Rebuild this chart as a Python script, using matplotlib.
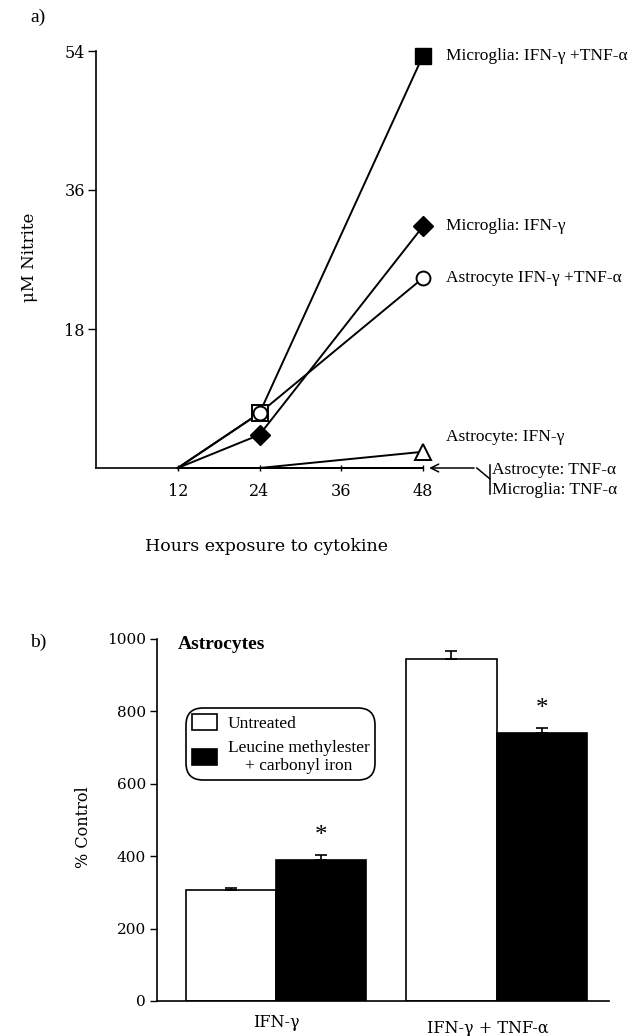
import matplotlib
matplotlib.use('Agg')
import matplotlib.pyplot as plt
from matplotlib.patches import Patch

# a) 시간별 nitrite 농도
hours = [12, 24, 48]
mg_ifn_tnf = [0, 7.1, 53.4]
mg_ifn = [0, 4.3, 31.3]
as_ifn_tnf = [0, 7.1, 24.6]
as_ifn = [0, 0, 2.1]
as_tnf = [0, 0, 0]
mg_tnf = [0, 0, 0]

x_ticks = [12, 24, 36, 48]
y_ticks = [18, 36, 54]

# b) Astrocytes % control
groups = ['IFN-γ', 'IFN-γ + TNF-α']
untreated = [308, 945]
untreated_err = [4, 21]
treated = [389, 739]
treated_err = [15, 16]

W, H = 628, 1036
TICK_FONT = 'DejaVu Serif'
LABEL_FONT = 'Liberation Serif'

fig = plt.figure(figsize=(W / 100, H / 100), dpi=100)


def fx(px):
    return px / W


def fy(py):
    return 1 - py / H


# ---------- panel a ----------
ax1 = fig.add_axes([fx(96), fy(468), fx(423) - fx(96), fy(51) - fy(468)])
ax1.set_xlim(0, 48)
ax1.set_ylim(0, 54)
for s in ['top', 'right']:
    ax1.spines[s].set_visible(False)
for s in ['left', 'bottom']:
    ax1.spines[s].set_linewidth(1.2)

lw = 1.4
ax1.plot(hours, as_tnf, color='black', lw=lw, clip_on=False)
ax1.plot(hours, mg_tnf, color='black', lw=lw, clip_on=False)
ax1.plot(hours, as_ifn, color='black', lw=lw, clip_on=False)
ax1.plot(hours, mg_ifn_tnf, color='black', lw=lw, clip_on=False)
ax1.plot(hours, as_ifn_tnf, color='black', lw=lw, clip_on=False)
ax1.plot(hours, mg_ifn, color='black', lw=lw, clip_on=False)

# markers
ax1.plot(hours[1], mg_ifn_tnf[1], 's', ms=11, mfc='white', mec='black', mew=1.4, clip_on=False, zorder=3)
ax1.plot(hours[2], mg_ifn_tnf[2], 's', ms=11, mfc='black', mec='black', clip_on=False, zorder=3)
ax1.plot(hours[1:], as_ifn_tnf[1:], 'o', ms=10, mfc='white', mec='black', mew=1.4, clip_on=False, zorder=4)
ax1.plot(hours[1:], mg_ifn[1:], 'D', ms=10, mfc='black', mec='black', clip_on=False, zorder=4)
ax1.plot(hours[2], as_ifn[2], '^', ms=12, mfc='white', mec='black', mew=1.4, clip_on=False, zorder=4)

ax1.set_xticks(x_ticks)
ax1.set_yticks(y_ticks)
ax1.tick_params(axis='x', direction='inout', length=5, width=1, pad=8)
ax1.tick_params(axis='y', direction='out', length=6, width=1, pad=2)
for lab in ax1.get_xticklabels() + ax1.get_yticklabels():
    lab.set_fontfamily(TICK_FONT)
    lab.set_fontsize(11.5)

ax1.set_ylabel('μM Nitrite', fontfamily=TICK_FONT, fontsize=12)
ax1.set_xlabel('Hours exposure to cytokine', fontfamily=TICK_FONT, fontsize=12.5)
ax1.yaxis.set_label_coords(-0.178, 0.505)
ax1.xaxis.set_label_coords(0.52, -0.168)

ann_kw = dict(fontfamily=LABEL_FONT, fontsize=12.5, va='center', ha='left')
ax1.text(51.4, mg_ifn_tnf[2], 'Microglia: IFN-γ +TNF-α', **ann_kw)
ax1.text(51.4, mg_ifn[2], 'Microglia: IFN-γ', **ann_kw)
ax1.text(51.4, as_ifn_tnf[2], 'Astrocyte IFN-γ +TNF-α', **ann_kw)
ax1.text(51.4, 4.0, 'Astrocyte: IFN-γ', **ann_kw)

# TNF-α 괄호 + 화살표
ax1.annotate('', xy=(48.5, 0), xytext=(55.9, 0),
             arrowprops=dict(arrowstyle='->', color='black', lw=1.1, mutation_scale=14),
             annotation_clip=False)
ax1.plot([55.9, 57.8], [0, -1.4], color='black', lw=1.1, clip_on=False)
ax1.plot([57.8, 57.8], [0.4, -3.4], color='black', lw=1.1, clip_on=False)
ax1.text(58.1, -0.3, 'Astrocyte: TNF-α', **ann_kw)
ax1.text(58.1, -2.9, 'Microglia: TNF-α', **ann_kw)

fig.text(fx(30), fy(17), 'a)', fontfamily=LABEL_FONT, fontsize=14, va='center')

# ---------- panel b ----------
ax2 = fig.add_axes([fx(157), fy(1001), fx(609) - fx(157), fy(639) - fy(1001)])
ax2.set_xlim(-0.54, 1.51)
ax2.set_ylim(0, 1000)
for s in ['top', 'right']:
    ax2.spines[s].set_visible(False)
for s in ['left', 'bottom']:
    ax2.spines[s].set_linewidth(1.2)

pos = list(range(len(groups)))
bw = 0.41
ax2.bar([p - bw / 2 for p in pos], untreated, width=bw, color='white', edgecolor='black', lw=1.2,
        yerr=[[0] * len(pos), untreated_err], capsize=4,
        error_kw=dict(elinewidth=1.2, capthick=1.2, ecolor='black'), label='Untreated')
ax2.bar([p + bw / 2 for p in pos], treated, width=bw, color='black', edgecolor='black', lw=1.2,
        yerr=[[0] * len(pos), treated_err], capsize=4,
        error_kw=dict(elinewidth=1.2, capthick=1.2, ecolor='black'),
        label='Leucine methylester\n+ carbonyl iron')

for p, v, e in zip(pos, treated, treated_err):
    ax2.text(p + bw / 2, v + e + 52, '*', ha='center', va='center',
             fontfamily=LABEL_FONT, fontsize=18)

ax2.set_xticks([])
ax2.set_yticks(range(0, 1001, 200))
ax2.tick_params(axis='y', direction='out', length=5, width=1, pad=3)
for lab in ax2.get_yticklabels():
    lab.set_fontfamily(TICK_FONT)
    lab.set_fontsize(11)
ax2.set_ylabel('% Control', fontfamily=TICK_FONT, fontsize=11.5)
ax2.yaxis.set_label_coords(-0.143, 0.48)

# 카테고리 라벨 (높이가 서로 다름)
ax2.text(pos[0], -0.060, groups[0], transform=ax2.get_xaxis_transform(), ha='center', va='center',
         fontfamily=TICK_FONT, fontsize=11.5)
ax2.text(pos[1] - 0.04, -0.075, groups[1], transform=ax2.get_xaxis_transform(), ha='center', va='center',
         fontfamily=TICK_FONT, fontsize=11.5)

ax2.text(0.045, 0.985, 'Astrocytes', transform=ax2.transAxes, ha='left', va='center',
         fontfamily=LABEL_FONT, fontweight='bold', fontsize=14)

handles = [Patch(facecolor='white', edgecolor='black', lw=1.2),
           Patch(facecolor='black', edgecolor='black', lw=1.2)]
leg = ax2.legend(handles, ['Untreated', 'Leucine methylester\n+ carbonyl iron'],
                 loc='upper left', bbox_to_anchor=(fx(186), fy(708)), bbox_transform=fig.transFigure,
                 borderaxespad=0, fancybox=True, frameon=True, edgecolor='black', framealpha=1,
                 prop=dict(family=LABEL_FONT, size=12.5), handlelength=1.45, handleheight=1.0,
                 handletextpad=0.6, labelspacing=0.45, borderpad=0.35)
leg.get_frame().set_linewidth(1.2)
leg.get_frame().set_boxstyle('round', pad=0, rounding_size=1.0)
for t in leg.get_texts():
    t.set_multialignment('center')

fig.text(fx(30), fy(642), 'b)', fontfamily=LABEL_FONT, fontsize=14, va='center')

fig.savefig('out.png', dpi=100)
